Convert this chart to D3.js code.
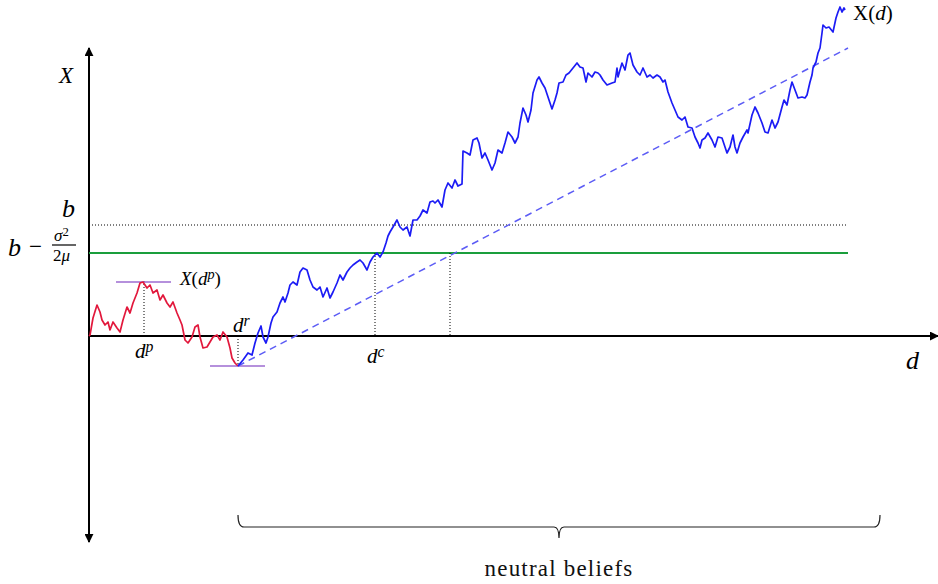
<!DOCTYPE html>
<html>
<head>
<meta charset="utf-8">
<script src="https://cdnjs.cloudflare.com/ajax/libs/d3/7.8.5/d3.min.js"></script>
<style>
  body { margin: 0; background: #fff; }
  svg { display: block; }
</style>
</head>
<body>
<div id="chart"></div>
<script>
// path before the reset point d^r
var redD = [0, 1, 4, 8, 11, 13, 16, 19, 21, 24, 28, 31, 34, 38, 41, 44, 48, 51, 54, 58, 61, 64, 68, 71, 74, 78, 81, 84, 88, 91, 93, 96, 99, 103, 106, 109, 111, 114, 118, 121, 124, 128, 131, 134, 138, 141, 143, 146, 149];
var redX = [0, 1, 18, 31, 24, 16, 11, 14, 6, 14, 8, 4, 16, 29, 23, 33, 43, 53, 54, 48, 51, 43, 46, 36, 41, 33, 29, 34, 23, 16, 11, -4, -7, -1, 9, 11, -1, -12, -11, -6, -1, 1, -4, 4, -1, -12, -22, -27, -30];

// path after d^r
var blueD = [149, 154, 159, 163, 166, 169, 172, 174, 177, 179, 182, 184, 188, 191, 194, 196, 199, 201, 204, 208,
  211, 214, 218, 221, 224, 228, 231, 234, 238, 241, 244, 248, 251, 254, 258, 261, 264, 268, 271, 274,
  278, 281, 284, 288, 291, 294, 297, 299, 301, 304, 308, 311, 314, 318, 321, 324, 328, 331, 334, 338,
  341, 344, 346, 349, 353, 356, 359, 363, 366, 369, 373, 374, 378, 381, 384, 388, 390, 393, 396, 399,
  403, 406, 409, 413, 416, 419, 423, 426, 429, 431, 434, 437, 439, 442, 444, 448, 450, 453, 456, 459,
  463, 466, 468, 470, 474, 477, 480, 484, 488, 491, 494, 497, 499, 503, 506, 509, 511, 514, 518, 523,
  526, 528, 529, 533, 536, 539, 541, 544, 548, 551, 554, 558, 561, 564, 568, 571, 574, 576, 579, 583,
  586, 589, 593, 596, 599, 603, 606, 609, 611, 613, 616, 619, 623, 626, 629, 633, 636, 638, 641, 644,
  646, 648, 651, 654, 658, 659, 663, 666, 669, 673, 676, 679, 683, 686, 689, 693, 695, 698, 701, 703,
  706, 709, 713, 716, 718, 721, 723, 724, 727, 729, 731, 733, 734, 737, 740, 744, 747, 749, 751, 753,
  755, 756];
var blueX = [-30, -24, -17, -19, -7, 3, 10, -1, -7, -1, 13, 19, 24, 33, 39, 34, 43, 51, 54, 51,
  64, 68, 66, 56, 49, 46, 49, 39, 48, 38, 44, 53, 61, 56, 64, 68, 71, 74, 76, 73,
  66, 74, 79, 83, 79, 84, 93, 100, 104, 109, 116, 109, 106, 109, 100, 116, 116, 120, 126, 123,
  134, 135, 133, 136, 129, 146, 153, 148, 156, 150, 152, 185, 183, 181, 196, 198, 193, 178, 183, 176,
  166, 173, 186, 183, 193, 204, 199, 193, 199, 213, 228, 221, 214, 226, 243, 256, 259, 253, 248, 239,
  227, 236, 243, 253, 254, 261, 263, 268, 273, 269, 268, 254, 263, 259, 264, 263, 261, 256, 251, 253,
  254, 268, 259, 273, 266, 281, 283, 271, 264, 261, 268, 259, 261, 258, 261, 259, 254, 256, 244, 233,
  226, 219, 216, 219, 209, 208, 199, 193, 188, 196, 198, 203, 196, 189, 199, 198, 189, 183, 189, 201,
  189, 183, 193, 199, 206, 203, 221, 229, 223, 213, 204, 203, 216, 208, 214, 229, 236, 231, 246, 254,
  246, 238, 239, 238, 241, 254, 261, 268, 274, 283, 288, 303, 311, 308, 309, 304, 318, 324, 329, 324,
  328, 326];

// levels and marked points
var bLevel = 111;          // b
var bAdjLevel = 83;        // b - sigma^2 / 2mu
var levelEnd = 759;
var dP = 55, xAtDP = 55;   // d^p, X(d^p)
var dR = 149, xAtDR = -30; // d^r
var dC = 286;              // d^c
var dCross = 361;          // drift line meets b - sigma^2/2mu
var driftD = [149, 759];
var driftX = [-30, 288];
var braceD = [149, 791];

var width = 938, height = 584;
var serif = '"Liberation Serif", "DejaVu Serif", "Noto Serif", serif';
var x = d3.scaleLinear().domain([0, 849]).range([89, 938]);
var y = d3.scaleLinear().domain([-206, 288]).range([542, 48]);

var svg = d3.select('#chart').append('svg')
    .attr('width', width)
    .attr('height', height);

var defs = svg.append('defs');
defs.append('marker')
    .attr('id', 'arrow')
    .attr('viewBox', '0 0 10 10')
    .attr('refX', 9).attr('refY', 5)
    .attr('markerWidth', 9).attr('markerHeight', 9)
    .attr('markerUnits', 'userSpaceOnUse')
    .attr('orient', 'auto-start-reverse')
    .append('path')
    .attr('d', 'M0,0 L10,5 L0,10 Z')
    .attr('fill', '#000');

/* ---------- axes ---------- */
svg.append('line')
    .attr('x1', x(0)).attr('x2', x(0))
    .attr('y1', y(-206)).attr('y2', y(288))
    .attr('stroke', '#000').attr('stroke-width', 2)
    .attr('marker-start', 'url(#arrow)')
    .attr('marker-end', 'url(#arrow)');
svg.append('line')
    .attr('x1', x(0)).attr('x2', x(849))
    .attr('y1', y(0)).attr('y2', y(0))
    .attr('stroke', '#000').attr('stroke-width', 2)
    .attr('marker-end', 'url(#arrow)');

/* ---------- level lines ---------- */
svg.append('line')
    .attr('x1', x(0)).attr('x2', x(levelEnd))
    .attr('y1', y(bLevel)).attr('y2', y(bLevel))
    .attr('stroke', '#000').attr('stroke-width', 1)
    .attr('stroke-dasharray', '1,2');
svg.append('line')
    .attr('x1', x(0)).attr('x2', x(levelEnd))
    .attr('y1', y(bAdjLevel)).attr('y2', y(bAdjLevel))
    .attr('stroke', '#1a9e3c').attr('stroke-width', 2);

// dotted drop lines
var drops = [[dP, xAtDP, 0], [dR, 0, xAtDR], [dC, bAdjLevel, 0], [dCross, bAdjLevel, 0]];
svg.selectAll('line.drop')
    .data(drops)
    .enter().append('line')
    .attr('class', 'drop')
    .attr('x1', function(d) { return x(d[0]); })
    .attr('x2', function(d) { return x(d[0]); })
    .attr('y1', function(d) { return y(d[1]); })
    .attr('y2', function(d) { return y(d[2]); })
    .attr('stroke', '#000').attr('stroke-width', 1)
    .attr('stroke-dasharray', '1,2');

// purple marks at max / min
var marks = [[dP, xAtDP - 1], [dR, xAtDR]];
svg.selectAll('line.mark')
    .data(marks)
    .enter().append('line')
    .attr('class', 'mark')
    .attr('x1', function(d) { return x(d[0] - 28); })
    .attr('x2', function(d) { return x(d[0] + 27); })
    .attr('y1', function(d) { return y(d[1]); })
    .attr('y2', function(d) { return y(d[1]); })
    .attr('stroke', '#9d6bd0').attr('stroke-width', 1.5);

// drift line
svg.append('line')
    .attr('x1', x(driftD[0])).attr('x2', x(driftD[1]))
    .attr('y1', y(driftX[0])).attr('y2', y(driftX[1]))
    .attr('stroke', '#5c5cf5').attr('stroke-width', 1.5)
    .attr('stroke-dasharray', '7,5');

/* ---------- paths ---------- */
var line = d3.line()
    .x(function(d) { return x(d[0]); })
    .y(function(d) { return y(d[1]); });

svg.append('path')
    .datum(redD.map(function(d, i) { return [d, redX[i]]; }))
    .attr('d', line)
    .attr('fill', 'none')
    .attr('stroke', '#e2183c').attr('stroke-width', 1.7)
    .attr('stroke-linejoin', 'round');
svg.append('path')
    .datum(blueD.map(function(d, i) { return [d, blueX[i]]; }))
    .attr('d', line)
    .attr('fill', 'none')
    .attr('stroke', '#1c1cf5').attr('stroke-width', 1.7)
    .attr('stroke-linejoin', 'round');

/* ---------- brace ---------- */
var bx0 = x(braceD[0]), bx1 = x(braceD[1]), bm = (bx0 + bx1) / 2;
var by = 527;
svg.append('path')
    .attr('d', 'M' + bx0 + ',' + (by - 12) + ' Q' + bx0 + ',' + by + ' ' + (bx0 + 6) + ',' + by +
          ' L' + (bm - 5) + ',' + by + ' Q' + bm + ',' + by + ' ' + bm + ',' + (by + 11) +
          ' Q' + bm + ',' + by + ' ' + (bm + 5) + ',' + by +
          ' L' + (bx1 - 6) + ',' + by + ' Q' + bx1 + ',' + by + ' ' + bx1 + ',' + (by - 12))
    .attr('fill', 'none').attr('stroke', '#222').attr('stroke-width', 1.2);

svg.append('text')
    .attr('x', bm).attr('y', 576)
    .attr('text-anchor', 'middle')
    .style('font-family', '"Liberation Serif", serif')
    .style('letter-spacing', '1.2px')
    .attr('font-size', 23)
    .attr('fill', '#111')
    .text('neutral beliefs');

/* ---------- labels ---------- */
function addText(tx, ty, size, parts) {
  var t = svg.append('text').attr('x', tx).attr('y', ty)
      .attr('font-size', size)
      .attr('font-family', serif)
      .attr('font-style', 'italic');
  parts.forEach(function(p) {
    var s = t.append('tspan').text(p.t);
    if (p.sup) s.attr('baseline-shift', Math.round(size * 0.3)).attr('font-size', size * 0.75);
    if (p.roman) s.attr('font-style', 'normal');
  });
  return t;
}
addText(59, 83, 23, [{ t: 'X' }]);
addText(62, 217, 26, [{ t: 'b' }]);
addText(8, 256, 26, [{ t: 'b' }]);
addText(29, 254, 23, [{ t: '\u2212', roman: true }]);
addText(54, 241, 17, [{ t: '\u03c3' }, { t: '2', roman: true, sup: true }]);
svg.append('line').attr('x1', 52).attr('x2', 76).attr('y1', 245).attr('y2', 245)
    .attr('stroke', '#000').attr('stroke-width', 1.2);
addText(53, 261, 17, [{ t: '2', roman: true }, { t: '\u03bc' }]);
addText(180, 285, 19, [{ t: 'X' }, { t: '(', roman: true }, { t: 'd' }, { t: 'p', sup: true }, { t: ')', roman: true }]);
addText(135, 358, 21, [{ t: 'd' }, { t: 'p', sup: true }]);
addText(233, 332, 21, [{ t: 'd' }, { t: 'r', sup: true }]);
addText(367, 363, 21, [{ t: 'd' }, { t: 'c', sup: true }]);
addText(906, 369, 26, [{ t: 'd' }]);
addText(853, 20, 21, [{ t: 'X(', roman: true }, { t: 'd' }, { t: ')', roman: true }]);
</script>
</body>
</html>
